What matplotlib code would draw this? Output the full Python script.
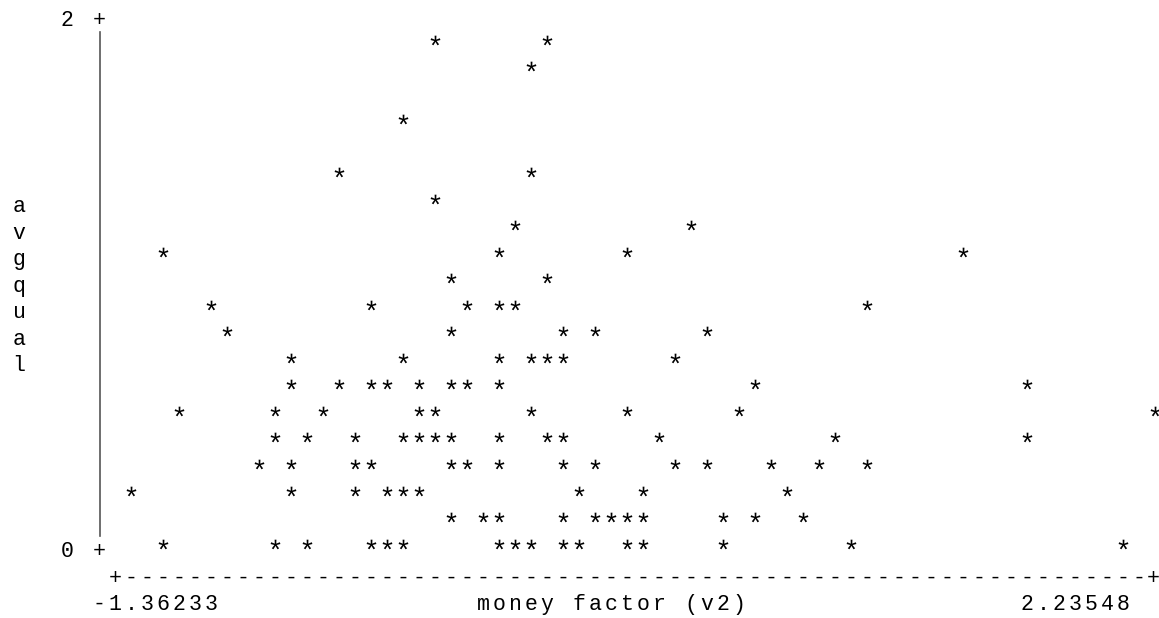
import matplotlib
matplotlib.use("Agg")
import matplotlib.pyplot as plt

# text-mode scatter: avgqual against money factor (v2)
plt.rcParams['mathtext.fontset'] = 'custom'
plt.rcParams['mathtext.rm'] = 'Liberation Mono'
plt.rcParams['mathtext.it'] = 'Liberation Mono'

x_min, x_max = -1.36233, 2.23548
y_min, y_max = 0, 2

# points read row by row, top to bottom
money_v2 = [
    -0.294, 0.099,                                                   # 1.9
    0.043,                                                           # 1.8
    -0.407,                                                          # 1.6
    -0.632, 0.043,                                                   # 1.4
    -0.294,                                                          # 1.3
    -0.013, 0.605,                                                   # 1.2
    -1.250, -0.069, 0.380, 1.561,                                    # 1.1
    -0.238, 0.099,                                                   # 1.0
    -1.081, -0.519, -0.182, -0.069, -0.013, 1.223,                   # 0.9
    -1.025, -0.238, 0.155, 0.268, 0.661,                             # 0.8
    -0.800, -0.407, -0.069, 0.043, 0.099, 0.155, 0.549,              # 0.7
    -0.800, -0.632, -0.519, -0.463, -0.350, -0.238, -0.182, -0.069,
    0.830, 1.786,                                                    # 0.6
    -1.194, -0.856, -0.688, -0.350, -0.294, 0.043, 0.380, 0.774,
    2.235,                                                           # 0.5
    -0.856, -0.744, -0.575, -0.407, -0.350, -0.294, -0.238, -0.069,
    0.099, 0.155, 0.493, 1.111, 1.786,                               # 0.4
    -0.913, -0.800, -0.575, -0.519, -0.238, -0.182, -0.069, 0.155,
    0.268, 0.549, 0.661, 0.886, 1.055, 1.223,                        # 0.3
    -1.362, -0.800, -0.575, -0.463, -0.407, -0.350, 0.212, 0.437,
    0.942,                                                           # 0.2
    -0.238, -0.126, -0.069, 0.155, 0.268, 0.324, 0.380, 0.437,
    0.718, 0.830, 0.999,                                             # 0.1
    -1.250, -0.856, -0.744, -0.519, -0.463, -0.407, -0.069, -0.013,
    0.043, 0.155, 0.212, 0.380, 0.437, 0.718, 1.167, 2.123,          # 0.0
]
row_values = [1.9, 1.8, 1.6, 1.4, 1.3, 1.2, 1.1, 1.0, 0.9, 0.8, 0.7,
              0.6, 0.5, 0.4, 0.3, 0.2, 0.1, 0.0]
row_counts = [2, 1, 1, 2, 1, 2, 4, 2, 6, 5, 7, 10, 9, 13, 14, 9, 11, 16]
avgqual = [v for v, n in zip(row_values, row_counts) for _ in range(n)]

x_label = "money factor (v2)"
y_label = "avgqual"
x_ticks = ["-1.36233", "2.23548"]
y_ticks = ["2", "0"]

W, H = 1159, 618
fig = plt.figure(figsize=(W / 100, H / 100), dpi=100)

# character grid of the text plot (pixels)
cw, rh = 16, 26.53
col0, row0 = 131, 43


def put(s, k, r, dx=0, **kw):
    # one character per cell, like the terminal output
    for i, ch in enumerate(s):
        px = col0 + cw * (k + i) + dx
        py = row0 + rh * r + 10
        fig.text(px / W, 1 - py / H, ch, ha='center', va='baseline',
                 family='Liberation Mono', size=15.5, color='black', **kw)


# marker glyphs sit a little low, lift the axes by a few pixels
lift = 3.5
ax = fig.add_axes([col0 / W, (H - (row0 - lift + 19 * rh)) / H,
                   64 * cw / W, 20 * rh / H])
ax.set_xlim(x_min, x_max)
ax.set_ylim(y_min, y_max)
ax.axis('off')
ax.scatter(money_v2, avgqual, marker=r'$*$', s=50, color='black',
           linewidths=0, clip_on=False)

# y axis
put(y_ticks[0] + " +", -4, -1)
put(y_ticks[1] + " +", -4, 19)
fig.add_artist(plt.Line2D([100 / W, 100 / W], [1 - 32 / H, 1 - 536 / H],
                          color='#555555', lw=1.2))
for i, ch in enumerate(y_label):
    put(ch, -7, 6 + i)

# x axis
put("+" + "-" * 64, -1, 20)
put("+", 64, 20, dx=-2)
put(x_ticks[0], -2, 21)
put(x_label, 22, 21)
put(x_ticks[1], 56, 21)

fig.savefig("out.png", dpi=100, facecolor='white')
